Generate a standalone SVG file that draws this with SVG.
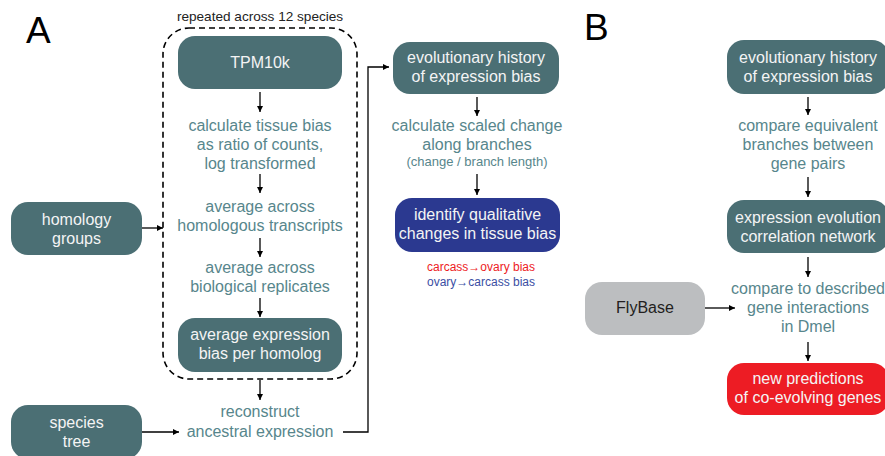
<svg xmlns="http://www.w3.org/2000/svg" width="885" height="456" viewBox="0 0 885 456">
<style>
text{font-family:"Liberation Sans",Arial,sans-serif;text-anchor:middle}
.lbl{font-size:37px;fill:#000;text-anchor:start}
.box{fill:#4b6f74}
.bt{font-size:16px;fill:#f4f4f4}
.st{font-size:16px;fill:#57868c}
.sm{font-size:13px;fill:#57868c}
.c{stroke:#000;stroke-width:1.3;fill:none}
</style>
<defs>
<marker id="ah" viewBox="0 0 10 10" refX="10" refY="5" markerWidth="6" markerHeight="6" markerUnits="userSpaceOnUse" orient="auto">
<path d="M0,0 L10,5 L0,10 z" fill="#000"/>
</marker>
</defs>
<rect width="885" height="456" fill="#fff"/>
<text class="lbl" x="26" y="43">A</text>
<text class="lbl" x="584" y="40">B</text>

<g id="repeat-group">
<rect x="163" y="28" width="194" height="351" rx="26" fill="none" stroke="#000" stroke-width="1.6" stroke-dasharray="6,4"/>
<text x="260" y="21" style="font-size:13.6px;fill:#222">repeated across 12 species</text>
</g>
<g id="tpm"><rect class="box" x="178" y="36" width="164" height="53" rx="17"/><text class="bt" x="260" y="68">TPM10k</text></g>
<g id="calc-bias"><text class="st" x="260" y="131">calculate tissue bias</text><text class="st" x="260" y="150">as ratio of counts,</text><text class="st" x="260" y="169">log transformed</text></g>
<g id="avg-transcripts"><text class="st" x="260" y="212">average across</text><text class="st" x="260" y="231">homologous transcripts</text></g>
<g id="avg-replicates"><text class="st" x="260" y="273">average across</text><text class="st" x="260" y="292">biological replicates</text></g>
<g id="avg-expr"><rect class="box" x="178" y="318" width="164" height="54" rx="17"/><text class="bt" x="260" y="340">average expression</text><text class="bt" x="260" y="359">bias per homolog</text></g>
<g id="reconstruct"><text class="st" x="260" y="417">reconstruct</text><text class="st" x="260" y="437">ancestral expression</text></g>
<g id="homology"><rect class="box" x="11" y="202" width="131" height="53" rx="17"/><text class="bt" x="76.5" y="224.5">homology</text><text class="bt" x="76.5" y="243.5">groups</text></g>
<g id="species-tree"><rect class="box" x="11" y="405" width="131" height="54" rx="17"/><text class="bt" x="76.5" y="428">species</text><text class="bt" x="76.5" y="447">tree</text></g>

<g id="evo-a"><rect class="box" x="393" y="42" width="166" height="52" rx="17"/><text class="bt" x="476" y="63">evolutionary history</text><text class="bt" x="476" y="82">of expression bias</text></g>
<g id="scaled-change"><text class="st" x="477" y="131">calculate scaled change</text><text class="st" x="477" y="150">along branches</text><text class="sm" x="477" y="166">(change / branch length)</text></g>
<g id="identify"><rect x="395" y="198" width="165" height="54" rx="17" fill="#2b3990"/><text class="bt" x="477.5" y="220">identify qualitative</text><text class="bt" x="477.5" y="239">changes in tissue bias</text></g>
<g id="legend"><text x="481" y="271" style="font-size:12px;fill:#ed1c24">carcass→ovary bias</text><text x="481" y="286" style="font-size:12px;fill:#3b4ea3">ovary→carcass bias</text></g>

<g id="evo-b"><rect class="box" x="727" y="40" width="162" height="54" rx="17"/><text class="bt" x="808" y="63">evolutionary history</text><text class="bt" x="808" y="82">of expression bias</text></g>
<g id="compare-branches"><text class="st" x="808" y="131">compare equivalent</text><text class="st" x="808" y="150">branches between</text><text class="st" x="808" y="169">gene pairs</text></g>
<g id="network"><rect class="box" x="727" y="200" width="162" height="53" rx="17"/><text class="bt" x="808" y="223">expression evolution</text><text class="bt" x="808" y="242">correlation network</text></g>
<g id="compare-described"><text class="st" x="808" y="294">compare to described</text><text class="st" x="808" y="313">gene interactions</text><text class="st" x="808" y="332">in Dmel</text></g>
<g id="flybase"><rect x="585" y="282" width="120" height="53" rx="17" fill="#bcbec0"/><text x="645" y="313" style="font-size:16px;fill:#231f20">FlyBase</text></g>
<g id="predictions"><rect x="727" y="363" width="162" height="52" rx="17" fill="#ed1c24"/><text class="bt" x="808" y="384">new predictions</text><text class="bt" x="808" y="403">of co-evolving genes</text></g>

<g id="connectors">
<path class="c" marker-end="url(#ah)" d="M260,92 V112"/>
<path class="c" marker-end="url(#ah)" d="M260,174 V193"/>
<path class="c" marker-end="url(#ah)" d="M260,238 V257"/>
<path class="c" marker-end="url(#ah)" d="M260,298 V317"/>
<path class="c" marker-end="url(#ah)" d="M260,380 V400"/>
<path class="c" marker-end="url(#ah)" d="M142,228 H163"/>
<path class="c" marker-end="url(#ah)" d="M142,432 H179"/>
<path class="c" marker-end="url(#ah)" d="M343,432 H368 V67 H389"/>
<path class="c" marker-end="url(#ah)" d="M477,97 V116"/>
<path class="c" marker-end="url(#ah)" d="M477,174 V195"/>
<path class="c" marker-end="url(#ah)" d="M808,97 V115"/>
<path class="c" marker-end="url(#ah)" d="M808,177 V197"/>
<path class="c" marker-end="url(#ah)" d="M808,257 V277"/>
<path class="c" marker-end="url(#ah)" d="M705,308 H735"/>
<path class="c" marker-end="url(#ah)" d="M808,342 V361"/>
</g>
</svg>
